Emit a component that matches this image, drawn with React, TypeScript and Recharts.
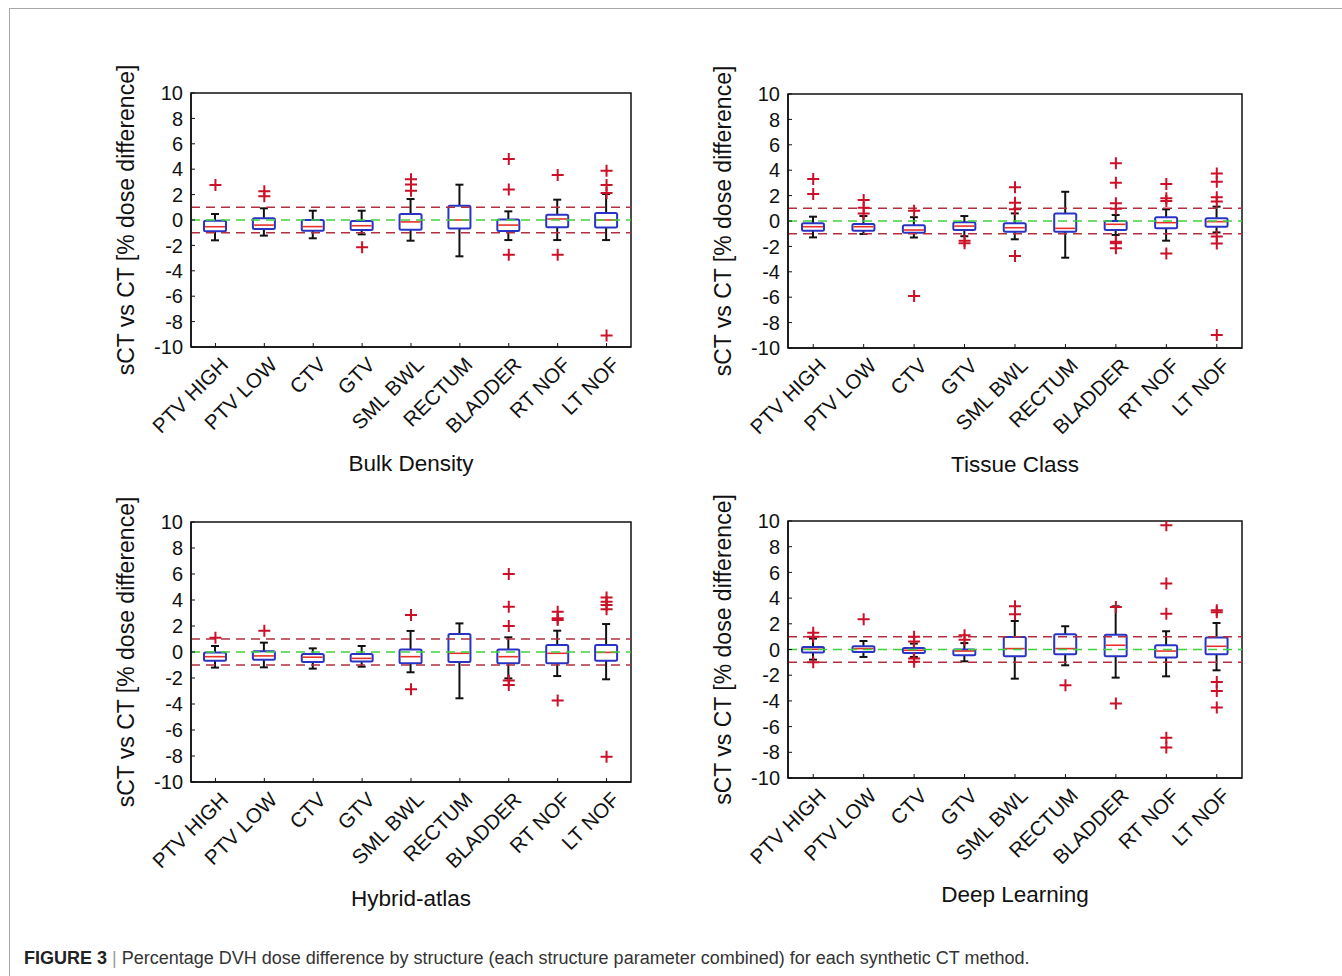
import React from 'react'
import { ComposedChart, Bar, Scatter, XAxis, YAxis, ReferenceLine, ReferenceArea } from 'recharts'

const structures = ['PTV HIGH', 'PTV LOW', 'CTV', 'GTV', 'SML BWL', 'RECTUM', 'BLADDER', 'RT NOF', 'LT NOF']
const yTicks = [-10, -8, -6, -4, -2, 0, 2, 4, 6, 8, 10]

// Bulk Density: whisker low, Q1, median, Q3, whisker high, outliers
const bulkLo = [-1.6, -1.23, -1.44, -1.13, -1.63, -2.86, -1.58, -1.58, -1.58]
const bulkQ1 = [-0.89, -0.71, -0.84, -0.79, -0.76, -0.66, -0.87, -0.58, -0.6]
const bulkMed = [-0.53, -0.4, -0.52, -0.45, -0.15, 0.0, -0.4, 0.08, 0.0]
const bulkQ3 = [-0.05, 0.13, 0.0, -0.08, 0.47, 1.13, 0.03, 0.42, 0.55]
const bulkHi = [0.47, 0.92, 0.73, 0.73, 1.65, 2.78, 0.68, 1.6, 2.05]
const bulkOut = [[2.75], [2.26, 1.87], [], [-2.15], [3.2, 2.8, 2.3], [], [4.8, 2.4, -2.73], [3.54, -2.73], [3.88, 2.76, 2.13, -9.1]]

// Tissue Class
const tissueLo = [-1.29, -1.02, -1.3, -1.2, -1.44, -2.89, -1.1, -1.55, -0.9]
const tissueQ1 = [-0.76, -0.76, -0.92, -0.71, -0.84, -0.84, -0.71, -0.58, -0.45]
const tissueMed = [-0.45, -0.45, -0.71, -0.4, -0.53, -0.58, -0.26, -0.13, -0.05]
const tissueQ3 = [-0.18, -0.24, -0.34, -0.1, -0.18, 0.6, 0.0, 0.29, 0.21]
const tissueHi = [0.34, 0.39, 0.3, 0.39, 0.6, 2.3, 0.47, 0.92, 1.13]
const tissueOut = [[3.3, 2.13], [1.65, 1.05, 0.6], [0.81, -5.9], [-1.55, -1.75], [2.65, 1.44, 0.92, -2.76], [], [4.54, 3.02, 1.39, 0.97, -1.63, -1.76, -2.15], [2.91, 1.79, 1.57, -2.55], [3.75, 3.1, 1.87, 1.53, -1.23, -1.77, -8.98]]

// Hybrid-atlas
const hybridLo = [-1.2, -1.18, -1.28, -1.13, -1.56, -3.56, -2.03, -1.85, -2.1]
const hybridQ1 = [-0.67, -0.6, -0.77, -0.74, -0.87, -0.77, -0.87, -0.87, -0.67]
const hybridMed = [-0.36, -0.3, -0.4, -0.49, -0.36, -0.1, -0.36, -0.1, -0.03]
const hybridQ3 = [-0.03, 0.05, -0.15, -0.15, 0.2, 1.38, 0.2, 0.54, 0.54]
const hybridHi = [0.46, 0.72, 0.28, 0.46, 1.62, 2.2, 1.13, 1.64, 2.15]
const hybridOut = [[1.1], [1.64], [], [], [2.85, -2.87], [], [6.0, 3.49, 2.0, -2.2, -2.54], [3.1, 2.59, 2.46, -3.74], [4.2, 3.87, 3.62, 3.28, -8.05]]

// Deep Learning
const deepLo = [-0.79, -0.58, -0.58, -0.92, -2.27, -1.23, -2.19, -2.09, -1.62]
const deepQ1 = [-0.24, -0.19, -0.27, -0.45, -0.53, -0.37, -0.53, -0.63, -0.37]
const deepMed = [0.02, 0.07, -0.06, -0.12, 0.07, 0.07, 0.33, -0.12, 0.25]
const deepQ3 = [0.2, 0.25, 0.11, 0.0, 0.97, 1.18, 1.15, 0.33, 0.93]
const deepHi = [0.85, 0.66, 0.46, 0.5, 2.22, 1.81, 3.36, 1.42, 2.06]
const deepOut = [[1.3, 1.0, -1.0], [2.35], [1.0, 0.62, -0.7, -0.95], [1.1, 0.75], [3.36, 2.75], [-2.79], [3.3, -4.21], [9.67, 5.13, 2.79, -6.86, -7.63], [3.05, 2.9, -2.53, -3.23, -4.52]]

const FONT = '"Liberation Sans", Arial, sans-serif'

function makeRows(lo: number[], q1: number[], med: number[], q3: number[], hi: number[]) {
  return structures.map((name, i) => ({ name, lo: lo[i], q1: q1[i], med: med[i], q3: q3[i], hi: hi[i] }))
}

function makeOutliers(out: number[][]) {
  const pts: { name: string; v: number }[] = []
  out.forEach((list, i) => list.forEach((v) => pts.push({ name: structures[i], v })))
  return pts
}

function BoxShape(props: any) {
  const { x, y, width, height, payload } = props
  if (!payload) return null
  const top = Math.min(y, y + height)
  const h = Math.abs(height)
  const span = payload.hi - payload.lo
  const py = (v: number) => top + ((payload.hi - v) / span) * h
  const cx = x + width / 2
  const cap = 4
  return (
    <g>
      <line x1={cx} x2={cx} y1={py(payload.hi)} y2={py(payload.q3)} stroke="#111" strokeWidth={2} />
      <line x1={cx} x2={cx} y1={py(payload.q1)} y2={py(payload.lo)} stroke="#111" strokeWidth={2} />
      <line x1={cx - cap} x2={cx + cap} y1={py(payload.hi)} y2={py(payload.hi)} stroke="#111" strokeWidth={2} />
      <line x1={cx - cap} x2={cx + cap} y1={py(payload.lo)} y2={py(payload.lo)} stroke="#111" strokeWidth={2} />
      <rect x={x} y={py(payload.q3)} width={width} height={py(payload.q1) - py(payload.q3)} fill="#fff" stroke="#2a34c4" strokeWidth={2} rx={1.5} />
      <line x1={x + 1} x2={x + width - 1} y1={py(payload.med)} y2={py(payload.med)} stroke="#e8302a" strokeWidth={1.6} />
    </g>
  )
}

function Plus(props: any) {
  const { cx, cy } = props
  if (cx == null || cy == null) return null
  return <path d={`M${cx - 6},${cy}h12M${cx},${cy - 6}v12`} stroke="#cc1028" strokeWidth={2} fill="none" />
}

function XTick(props: any) {
  const { x, y, payload } = props
  const ax = x + 14
  const ay = y + 19
  return (
    <text x={ax} y={ay} transform={`rotate(-45, ${ax}, ${ay})`} textAnchor="end" fontSize={20.5} fontFamily={FONT} fill="#111">
      {payload.value}
    </text>
  )
}

const LEFT = 140
const TOP = 30
const BOTTOM = 150

function Panel(props: { title: string; rows: any[]; outliers: any[]; left: number; top: number; w: number; h: number }) {
  const { title, rows, outliers, left, top, w, h } = props
  const width = LEFT + w + 20
  const height = TOP + h + BOTTOM
  return (
    <div style={{ position: 'absolute', left: left - LEFT, top: top - TOP, width, height }}>
      <ComposedChart width={width} height={height} data={rows} margin={{ top: TOP, right: 20, left: 0, bottom: 0 }}>
        <XAxis dataKey="name" type="category" allowDuplicatedCategory={false} height={BOTTOM} interval={0}
          tickSize={-4} tickMargin={4} tick={<XTick />} axisLine={{ stroke: '#111', strokeWidth: 1.5 }} tickLine={{ stroke: '#111' }} />
        <XAxis xAxisId="top" dataKey="name" orientation="top" height={0} interval={0}
          tickSize={-4} tickFormatter={() => ''} axisLine={false} tickLine={{ stroke: '#111' }} />
        <YAxis type="number" domain={[-10, 10]} ticks={yTicks} width={LEFT} allowDataOverflow interval={0}
          tickSize={-4} tickMargin={12} axisLine={{ stroke: '#111', strokeWidth: 1.5 }} tickLine={{ stroke: '#111' }}
          tick={{ fontSize: 20, fontFamily: FONT, fill: '#111' }} />
        <YAxis yAxisId="right" orientation="right" type="number" domain={[-10, 10]} ticks={yTicks} width={0} interval={0}
          tickSize={-4} tickFormatter={() => ''} axisLine={false} tickLine={{ stroke: '#111' }} />
        <ReferenceArea y1={-10} y2={10} fill="none" stroke="#111" strokeWidth={1.5} fillOpacity={0} ifOverflow="visible" />
        <Bar dataKey={(d: any) => [d.lo, d.hi]} barSize={22} shape={<BoxShape />} isAnimationActive={false} />
        <ReferenceLine y={1} stroke="#b2303e" strokeDasharray="9 6" strokeWidth={1.5} />
        <ReferenceLine y={-1} stroke="#b2303e" strokeDasharray="9 6" strokeWidth={1.5} />
        <ReferenceLine y={0} stroke="#3fd23f" strokeDasharray="9 6" strokeWidth={1.5} />
        <Scatter data={outliers} dataKey="v" shape={<Plus />} isAnimationActive={false} />
        <text x={LEFT - 63} y={TOP + h / 2} transform={`rotate(-90, ${LEFT - 63}, ${TOP + h / 2})`} textAnchor="middle"
          dominantBaseline="middle" fontSize={23} fontFamily={FONT} fill="#111">
          sCT vs CT [% dose difference]
        </text>
        <text x={LEFT + w / 2} y={TOP + h + 124} textAnchor="middle" fontSize={22.5} fontFamily={FONT} fill="#111">
          {title}
        </text>
      </ComposedChart>
    </div>
  )
}

export default function App() {
  return (
    <div style={{ position: 'absolute', left: 0, top: 0, width: 1342, height: 976, background: '#fff', overflow: 'hidden' }}>
      <div style={{ position: 'absolute', left: 9, top: 8, width: 1340, height: 980, borderTop: '1.5px solid #a8a8a8', borderLeft: '1.5px solid #a8a8a8' }} />
      <Panel title="Bulk Density" rows={makeRows(bulkLo, bulkQ1, bulkMed, bulkQ3, bulkHi)} outliers={makeOutliers(bulkOut)} left={191} top={93} w={440} h={254} />
      <Panel title="Tissue Class" rows={makeRows(tissueLo, tissueQ1, tissueMed, tissueQ3, tissueHi)} outliers={makeOutliers(tissueOut)} left={788} top={94} w={454} h={254} />
      <Panel title="Hybrid-atlas" rows={makeRows(hybridLo, hybridQ1, hybridMed, hybridQ3, hybridHi)} outliers={makeOutliers(hybridOut)} left={191} top={522} w={440} h={260} />
      <Panel title="Deep Learning" rows={makeRows(deepLo, deepQ1, deepMed, deepQ3, deepHi)} outliers={makeOutliers(deepOut)} left={788} top={521} w={454} h={257} />
      <div style={{ position: 'absolute', left: 24, top: 948, fontFamily: FONT, fontSize: 18, color: '#333', whiteSpace: 'nowrap' }}>
        <b style={{ color: '#222' }}>FIGURE 3</b>
        <span style={{ color: '#999' }}> | </span>
        Percentage DVH dose difference by structure (each structure parameter combined) for each synthetic CT method.
      </div>
    </div>
  )
}
